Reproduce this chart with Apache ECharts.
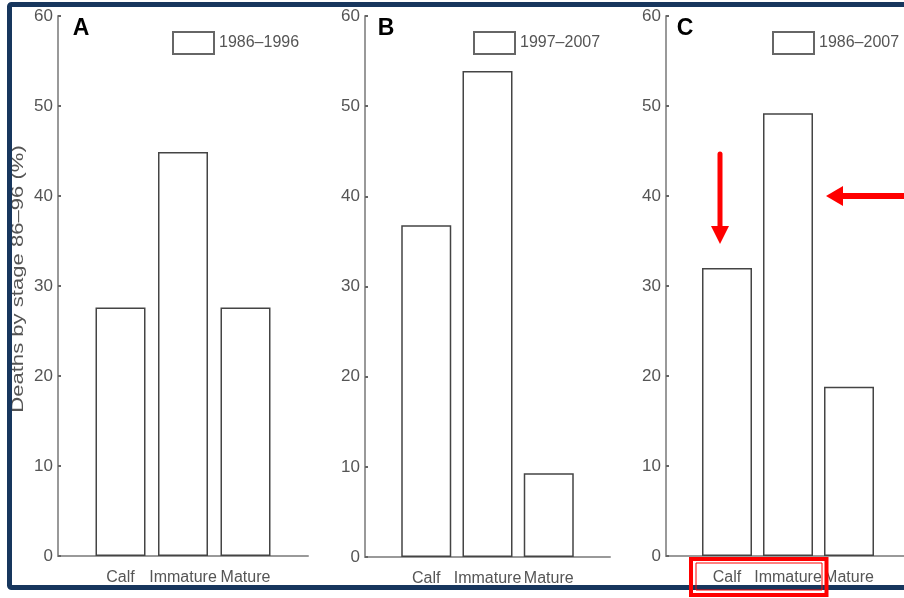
<!DOCTYPE html>
<html>
<head>
<meta charset="utf-8">
<script src="https://cdn.jsdelivr.net/npm/echarts@6/dist/echarts.min.js"></script>
<style>
  html, body { margin: 0; padding: 0; background: #fff; }
  #deaths { width: 904px; height: 598px; }
</style>
</head>
<body>
<div id="deaths"></div>
<script>
// stages and percentage of deaths
var stages = ['Calf', 'Immature', 'Mature'];
var periods = ['1986–1996', '1997–2007', '1986–2007'];
var panelNames = ['A', 'B', 'C'];
var deathsA = [27.6, 44.9, 27.6];
var deathsB = [36.8, 53.9, 9.3];
var deathsC = [32.0, 49.2, 18.8];

var txtFont = "'Liberation Sans', Arial, sans-serif";
var navy = '#17365d';
var red = '#ff0000';

// panel positions (left of y axis, width of plot); panel C runs off the right edge
var grids = [
    { left: 58, top: 16, width: 250, height: 540, outerBoundsMode: 'none' },
    { left: 365, top: 16, width: 245, height: 541, outerBoundsMode: 'none' },
    { left: 666, top: 16, width: 244, height: 540, outerBoundsMode: 'none' }
];
var legendLeft = [172, 473, 772];
var letterX = [81, 386, 685];

function panel_chart(echarts) {
    var myChart = echarts.init(document.getElementById('deaths'));
    var allData = [deathsA, deathsB, deathsC];
    var xAxis = [], yAxis = [], series = [], legend = [], graphic = [];

    for (var i = 0; i < 3; i++) {
        xAxis.push({
            gridIndex: i, type: 'value', min: 0, max: 4, interval: 1,
            splitLine: { show: false }, axisTick: { show: false },
            axisLine: { show: true, lineStyle: { color: '#999', width: 2 } },
            axisLabel: {
                color: '#555', fontSize: 16, fontFamily: txtFont, margin: 14,
                formatter: function (v) { return stages[v - 1] || ''; }
            }
        });
        yAxis.push({
            gridIndex: i, type: 'value', min: 0, max: 60, interval: 10,
            splitLine: { show: false },
            axisLine: { show: true, lineStyle: { color: '#999', width: 2 } },
            axisTick: { show: true, inside: true, length: 3, lineStyle: { color: '#666', width: 2 } },
            axisLabel: { color: '#555', fontSize: 17, fontFamily: txtFont, margin: 5 }
        });
        series.push({
            name: periods[i], type: 'bar', xAxisIndex: i, yAxisIndex: i,
            barWidth: 50,
            itemStyle: { color: '#fff', borderColor: '#444', borderWidth: 1.5 },
            data: allData[i].map(function (v, k) { return [k + 1, v]; })
        });
        legend.push({
            data: [periods[i]], left: legendLeft[i], top: 31, padding: 0,
            icon: 'rect', itemWidth: 41, itemHeight: 22, itemGap: 0,
            itemStyle: { color: '#fff', borderColor: '#666', borderWidth: 2 },
            textStyle: { color: '#555', fontSize: 16, fontFamily: txtFont }
        });
        graphic.push({
            type: 'text', x: letterX[i], y: 29, z: 10,
            style: { text: panelNames[i], fill: '#000', font: "bold 23px 'Liberation Sans', Arial, sans-serif",
                     align: 'center', verticalAlign: 'middle' }
        });
    }

    // y title, stretched like the source figure
    graphic.push({
        type: 'text', x: 19, y: 279, rotation: Math.PI / 2, scaleX: 1.38, z: 10,
        style: { text: 'Deaths by stage 86–96 (%)', fill: '#555', font: "16px 'Liberation Sans', Arial, sans-serif",
                 align: 'center', verticalAlign: 'middle' }
    });
    // navy frame
    graphic.push({
        type: 'rect', z: 20, silent: true,
        shape: { x: 9.5, y: 4.5, width: 1000, height: 583, r: 2 },
        style: { fill: null, stroke: navy, lineWidth: 5 }
    });
    // red annotations on panel C
    graphic.push({ type: 'line', z: 30, shape: { x1: 720, y1: 154, x2: 720, y2: 228 },
                   style: { stroke: red, lineWidth: 5, lineCap: 'round' } });
    graphic.push({ type: 'polygon', z: 30, shape: { points: [[711, 226], [729, 226], [720, 244]] },
                   style: { fill: red } });
    graphic.push({ type: 'line', z: 30, shape: { x1: 910, y1: 196, x2: 840, y2: 196 },
                   style: { stroke: red, lineWidth: 6 } });
    graphic.push({ type: 'polygon', z: 30, shape: { points: [[843, 186], [843, 206], [826, 196]] },
                   style: { fill: red } });
    graphic.push({ type: 'rect', z: 30, shape: { x: 691, y: 559, width: 135.5, height: 36 },
                   style: { fill: null, stroke: red, lineWidth: 4 } });
    graphic.push({ type: 'rect', z: 30, shape: { x: 696, y: 563, width: 126, height: 27 },
                   style: { fill: null, stroke: red, lineWidth: 1 } });

    var option = {
        animation: false,
        grid: grids,
        xAxis: xAxis,
        yAxis: yAxis,
        legend: legend,
        series: series,
        graphic: graphic
    };
    myChart.setOption(option);
    window.addEventListener("resize", function() { myChart.resize(); });
};

panel_chart(echarts);
</script>
</body>
</html>
